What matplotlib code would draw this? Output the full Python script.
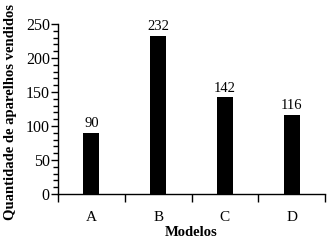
import matplotlib.pyplot as plt
import numpy as np
from matplotlib.ticker import MultipleLocator, FixedLocator

# dados do grafico
modelos = ['A', 'B', 'C', 'D']
vendidos = [90, 232, 142, 116]

plt.rcParams['font.family'] = ['Liberation Serif', 'DejaVu Serif']

fig = plt.figure(figsize=(3.32, 2.52), dpi=100)
ax = fig.add_axes([0.175, 0.23, 0.804, 0.675])

x = np.arange(len(modelos))
barras = ax.bar(x, vendidos, width=0.24, color='black')

# rotulos de valor em cima das barras
for xi, v in zip(x, vendidos):
    ax.annotate(str(v), (xi, v), xytext=(0, 2), textcoords='offset points',
                ha='center', va='bottom', fontsize=10.5)

ax.set_xlim(-0.5, len(modelos) - 0.5)
ax.set_ylim(0, 250)

# eixo x: rotulos no centro, marcas entre as categorias
ax.set_xticks(x)
ax.set_xticklabels(modelos, fontsize=11)
ax.tick_params(axis='x', which='major', length=0, pad=12)
ax.xaxis.set_minor_locator(FixedLocator(np.arange(-0.5, len(modelos), 1.0)))
ax.tick_params(axis='x', which='minor', length=6, width=1, direction='out')

# eixo y
ax.yaxis.set_major_locator(MultipleLocator(50))
ax.yaxis.set_minor_locator(MultipleLocator(10))
ax.tick_params(axis='y', which='major', length=5, width=1, labelsize=11.5, pad=1)
ax.tick_params(axis='y', which='minor', length=3.5, width=1)

for lado in ['top', 'right']:
    ax.spines[lado].set_visible(False)
for lado in ['left', 'bottom']:
    ax.spines[lado].set_linewidth(1)

ax.set_xlabel('Modelos', fontsize=10.5, fontweight='bold', labelpad=2)
ax.set_ylabel('Quantidade de aparelhos vendidos', fontsize=10.5, fontweight='bold', labelpad=2)
ax.yaxis.set_label_coords(-0.155, 0.48)

fig.savefig('out.png', dpi=100)
